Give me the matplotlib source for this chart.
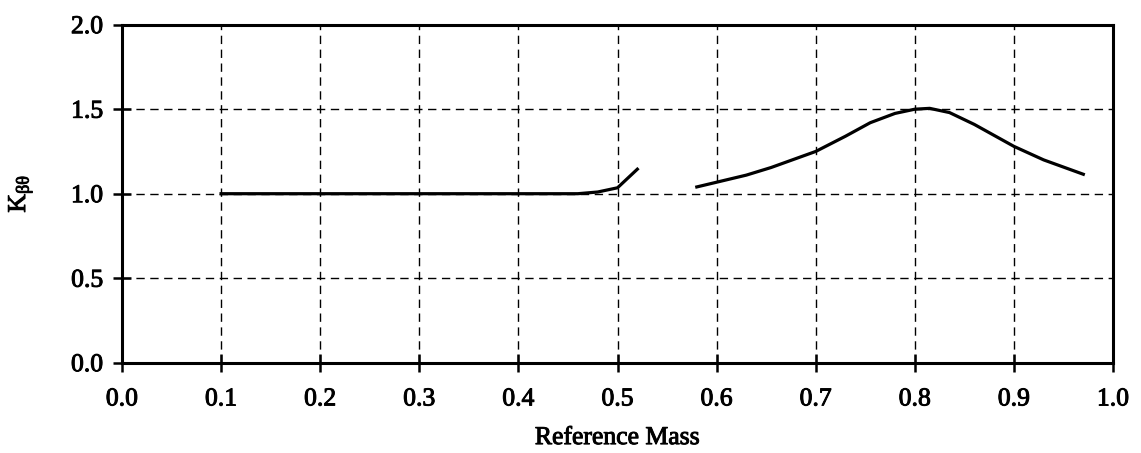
import matplotlib
matplotlib.use("Agg")
import matplotlib.pyplot as plt
import matplotlib.patheffects as pe

# low mass branch
x_low = [0.10, 0.20, 0.30, 0.40, 0.46, 0.48, 0.50, 0.52]
k_low = [1.00, 1.00, 1.00, 1.00, 1.00, 1.01, 1.035, 1.145]

# high mass branch
x_high = [0.58, 0.63, 0.655, 0.70, 0.73, 0.755, 0.78, 0.80, 0.815, 0.835, 0.86, 0.90, 0.93, 0.97]
k_high = [1.04, 1.11, 1.155, 1.25, 1.34, 1.42, 1.475, 1.50, 1.505, 1.48, 1.41, 1.28, 1.20, 1.115]

xticks = [0.0, 0.1, 0.2, 0.3, 0.4, 0.5, 0.6, 0.7, 0.8, 0.9, 1.0]
yticks = [0.0, 0.5, 1.0, 1.5, 2.0]

plt.rcParams['font.family'] = ['Liberation Serif', 'DejaVu Serif']
plt.rcParams['mathtext.fontset'] = 'custom'
plt.rcParams['mathtext.rm'] = 'Liberation Serif'
plt.rcParams['mathtext.it'] = 'Liberation Serif'

thick = [pe.withStroke(linewidth=0.7, foreground='black')]

fig = plt.figure(figsize=(11.41, 4.53), dpi=100)
ax = fig.add_axes([0.1069, 0.1993, 0.8686, 0.7462])

ax.plot(x_low, k_low, color='black', lw=2.3)
ax.plot(x_high, k_high, color='black', lw=2.3)

ax.set_xlim(0, 1)
ax.set_ylim(0, 2)
ax.set_xticks(xticks)
ax.set_yticks(yticks)
ax.set_xticklabels(["{:.1f}".format(v) for v in xticks], fontsize=18.5, path_effects=thick)
ax.set_yticklabels(["{:.1f}".format(v) for v in yticks], fontsize=18.5, path_effects=thick)
ax.tick_params(axis='y', direction='inout', length=13, width=1.8, pad=7)
ax.tick_params(axis='x', direction='inout', length=13, width=1.8, pad=12)

ax.grid(True, color='black', ls=(0, (6, 4)), lw=1.0)
for s in ax.spines.values():
    s.set_linewidth(2.2)

ax.set_xlabel('Reference Mass', fontsize=18.5, labelpad=12, path_effects=thick)
ax.set_ylabel(r'K$_{\mathrm{\beta\theta}}$', fontsize=18.5, path_effects=thick)
ax.yaxis.set_label_coords(-0.088, 0.5)

fig.savefig('out.png', dpi=100)
